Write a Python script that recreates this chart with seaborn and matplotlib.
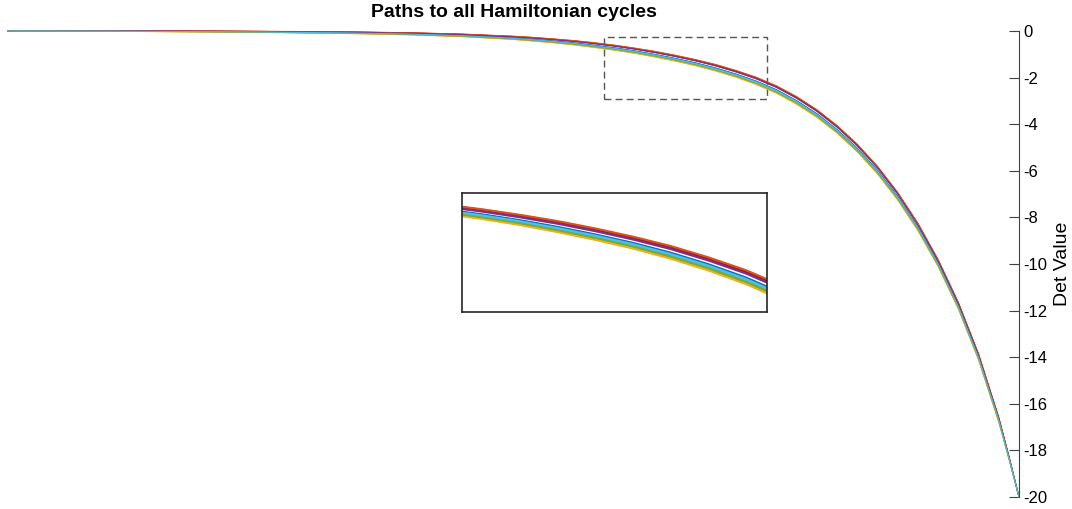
import numpy as np
import pandas as pd
import matplotlib
matplotlib.use("Agg")
import matplotlib.pyplot as plt
from matplotlib.patches import Rectangle
import seaborn as sns

# path parameter (hidden x axis) and the centre of the bundle of paths
t_values = [0.0, 0.10, 0.20, 0.25, 0.30, 0.35, 0.40, 0.45,
            0.50, 0.52, 0.54, 0.56, 0.58, 0.60, 0.62, 0.64, 0.66, 0.68,
            0.70, 0.72, 0.74, 0.76, 0.78, 0.80, 0.82, 0.84, 0.86, 0.88,
            0.90, 0.92, 0.94, 0.96, 0.98, 0.99, 1.0]
det_centre = [0.0, -0.005, -0.02, -0.035, -0.055, -0.08, -0.12, -0.185,
              -0.29, -0.35, -0.42, -0.50, -0.60, -0.71, -0.84, -0.99, -1.16, -1.35,
              -1.57, -1.83, -2.13, -2.50, -2.97, -3.53, -4.21, -5.01, -5.96, -7.08,
              -8.40, -9.95, -11.78, -13.98, -16.68, -18.30, -20.0]
# vertical width of the bundle at each sample
band_width = [0.0, 0.02, 0.04, 0.05, 0.07, 0.08, 0.10, 0.12,
              0.15, 0.17, 0.18, 0.20, 0.22, 0.23, 0.24, 0.26, 0.27, 0.28,
              0.30, 0.31, 0.33, 0.34, 0.35, 0.35, 0.35, 0.35, 0.35, 0.35,
              0.34, 0.32, 0.30, 0.27, 0.20, 0.12, 0.0]
# position of every Hamiltonian-cycle path inside the bundle (0 = top, 1 = bottom)
path_position = [0.60, 0.10, 0.95, 0.20, 0.88, 0.70, 0.15,
                 0.55, 0.05, 1.00, 0.28, 0.82, 0.65]

matlab_colors = ['#0072BD', '#D95319', '#EDB120', '#7E2F8E',
                 '#77AC30', '#4DBEEE', '#A2142F']

zoom_box = (0.59, 0.751, -2.92, -0.245)  # x0, x1, y0, y1

rows = []
for k, pos in enumerate(path_position):
    for t, c, w in zip(t_values, det_centre, band_width):
        rows.append({'t': t, 'det': c - (pos - 0.5) * w, 'path': k})
df = pd.DataFrame(rows)
palette = [matlab_colors[k % 7] for k in range(len(path_position))]

sns.set_theme(style='white')
plt.rcParams['font.family'] = ['Liberation Sans', 'DejaVu Sans']

W, H = 1072, 509
fig = plt.figure(figsize=(W / 100, H / 100), dpi=100)

ax = fig.add_axes([8 / W, 1 - 497 / H, (1019 - 8) / W, (497 - 31) / H])
sns.lineplot(data=df, x='t', y='det', hue='path', palette=palette,
             estimator=None, sort=False, legend=False, linewidth=0.7, ax=ax)
for line in ax.lines:
    line.set_clip_on(False)
ax.set_xlim(0, 1)
ax.set_ylim(-20, 0)
ax.set_yticks(np.arange(-20, 1, 2))
ax.set_yticklabels([str(v) for v in range(-20, 1, 2)])
for side in ['left', 'top', 'bottom']:
    ax.spines[side].set_visible(False)
ax.spines['right'].set_color('#404040')
ax.spines['right'].set_linewidth(0.8)
ax.xaxis.set_visible(False)
ax.yaxis.tick_right()
ax.yaxis.set_label_position('right')
ax.tick_params(axis='y', direction='in', length=7, width=0.8, color='#404040',
               labelsize=12, labelcolor='black', pad=3, right=True, left=False)
ax.set_ylabel('Det Value', fontsize=14, color='black', labelpad=5)
ax.set_xlabel('')
ax.set_title('Paths to all Hamiltonian cycles', fontsize=14, fontweight='bold',
             color='black', pad=10)
ax.patch.set_alpha(0)

x0, x1, y0, y1 = zoom_box
ax.add_patch(Rectangle((x0, y0), x1 - x0, y1 - y0, fill=False,
                       edgecolor='#555555', linestyle=(0, (5, 3)), linewidth=1.0))

# inset with the zoomed bundle
axi = fig.add_axes([462 / W, 1 - 312 / H, 305 / W, 119 / H])
sns.lineplot(data=df, x='t', y='det', hue='path', palette=palette,
             estimator=None, sort=False, legend=False, linewidth=1.5, ax=axi)
axi.set_xlim(x0, x1)
axi.set_ylim(y0, y1)
axi.set_xticks([])
axi.set_yticks([])
axi.set_xlabel('')
axi.set_ylabel('')
for s in axi.spines.values():
    s.set_visible(True)
    s.set_color('#262626')
    s.set_linewidth(1.2)

fig.savefig('out.png', dpi=100)
